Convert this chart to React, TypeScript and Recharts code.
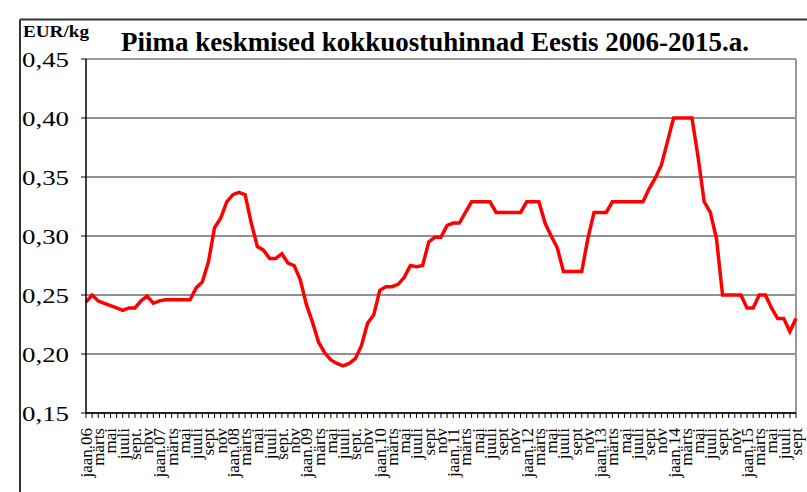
import { LineChart, Line, XAxis, YAxis, CartesianGrid, ReferenceLine } from 'recharts'

const years = ['06', '07', '08', '09', '10', '11', '12', '13', '14', '15']
const monthNames = ['jaan', 'veebr', 'märts', 'apr', 'mai', 'juuni', 'juuli', 'aug', 'sept', 'okt', 'nov', 'dets']

// EUR/kg, monthly from jaan 2006 to sept 2015
const prices = [
  0.244, 0.25, 0.245, 0.243, 0.241, 0.239, 0.237, 0.239, 0.239, 0.245, 0.249, 0.243,
  0.245, 0.246, 0.246, 0.246, 0.246, 0.246, 0.256, 0.261, 0.278, 0.307, 0.315, 0.329,
  0.335, 0.337, 0.335, 0.311, 0.291, 0.288, 0.281, 0.281, 0.285, 0.277, 0.275, 0.263,
  0.242, 0.227, 0.21, 0.201, 0.195, 0.192, 0.19, 0.192, 0.196, 0.207, 0.226, 0.233,
  0.254, 0.257, 0.257, 0.259, 0.265, 0.275, 0.274, 0.275, 0.295, 0.299, 0.299, 0.309,
  0.311, 0.311, 0.32, 0.329, 0.329, 0.329, 0.329, 0.32, 0.32, 0.32, 0.32, 0.32,
  0.329, 0.329, 0.329, 0.311, 0.3, 0.29, 0.27, 0.27, 0.27, 0.27, 0.298, 0.32,
  0.32, 0.32, 0.329, 0.329, 0.329, 0.329, 0.329, 0.329, 0.34, 0.349, 0.36, 0.38,
  0.4, 0.4, 0.4, 0.4, 0.367, 0.329, 0.32, 0.298, 0.25, 0.25, 0.25, 0.25,
  0.239, 0.239, 0.25, 0.25, 0.239, 0.23, 0.23, 0.219, 0.23,
]

// every second month gets a label
const tickLabels = [
  'jaan.06', 'märts', 'mai', 'juuli', 'sept.', 'nov',
  'jaan.07', 'märts', 'mai', 'juuli', 'sept', 'nov',
  'jaan.08', 'märts', 'mai', 'juuli', 'sept.', 'nov',
  'jaan.09', 'märts', 'mai', 'juuli', 'sept.', 'nov',
  'jaan.10', 'märts', 'mai', 'juuli', 'sept', 'nov',
  'jaan.11', 'märts', 'mai', 'juuli', 'sept', 'nov',
  'jaan.12', 'märts', 'mai', 'juuli', 'sept', 'nov',
  'jaan.13', 'märts', 'mai', 'juuli', 'sept', 'nov',
  'jaan.14', 'märts', 'mai', 'juuli', 'sept', 'nov',
  'jaan.15', 'märts', 'mai', 'juuli', 'sept',
]

const yTicks = [0.15, 0.2, 0.25, 0.3, 0.35, 0.4, 0.45]

const data = prices.map((price, i) => ({
  month: `${monthNames[i % 12]}.${years[Math.floor(i / 12)]}`,
  price,
}))

const FONT = '"Liberation Serif", "Times New Roman", serif'

function MonthTick(props: any) {
  const { x, y, index } = props
  if (index % 2 !== 0) return null
  const ty = y + 8
  return (
    <text
      x={x}
      y={ty}
      dy="0.35em"
      transform={`rotate(-90 ${x} ${ty})`}
      textAnchor="end"
      fontFamily={FONT}
      fontSize={17}
      fill="#000"
    >
      {tickLabels[index / 2]}
    </text>
  )
}

function PriceTick(props: any) {
  const { y, payload } = props
  return (
    <text x={22} y={y} dy="0.35em" fontFamily={FONT} fontSize={22} fill="#000" textLength={47} lengthAdjust="spacingAndGlyphs">
      {payload.value.toFixed(2).replace('.', ',')}
    </text>
  )
}

export default function App() {
  return (
    <div style={{ position: 'absolute', left: 0, top: 0, width: 807, height: 492, background: '#fff' }}>
      <LineChart width={807} height={492} data={data} margin={{ top: 59, right: 11, bottom: 0, left: 0 }}>
        <CartesianGrid vertical={false} stroke="#222" />
        <XAxis
          dataKey="month"
          interval={0}
          height={79}
          tick={<MonthTick />}
          tickSize={5}
          axisLine={{ stroke: '#000', strokeWidth: 1.5 }}
          tickLine={{ stroke: '#000' }}
        />
        <YAxis
          width={86}
          domain={[0.15, 0.45]}
          ticks={yTicks}
          tick={<PriceTick />}
          tickSize={5}
          axisLine={{ stroke: '#000', strokeWidth: 1.5 }}
          tickLine={{ stroke: '#000' }}
        />
        <ReferenceLine y={0.45} stroke="#999" strokeWidth={2} />
        <ReferenceLine x={data[data.length - 1].month} stroke="#999" strokeWidth={2} />
        <Line
          type="linear"
          dataKey="price"
          stroke="#ff0000"
          strokeWidth={3.5}
          dot={false}
          isAnimationActive={false}
        />
      </LineChart>
      <svg width={807} height={492} style={{ position: 'absolute', left: 0, top: 0, pointerEvents: 'none' }}>
        <line x1={20} y1={19.5} x2={807} y2={19.5} stroke="#333" strokeWidth={2} />
        <line x1={20} y1={19.5} x2={20} y2={492} stroke="#333" strokeWidth={2} />
        <text x={23} y={37} fontFamily={FONT} fontWeight="bold" fontSize={16} textLength={66} lengthAdjust="spacingAndGlyphs">
          EUR/kg
        </text>
        <text x={121} y={51} fontFamily={FONT} fontWeight="bold" fontSize={27} textLength={628} lengthAdjust="spacingAndGlyphs">
          Piima keskmised kokkuostuhinnad Eestis 2006-2015.a.
        </text>
      </svg>
    </div>
  )
}
